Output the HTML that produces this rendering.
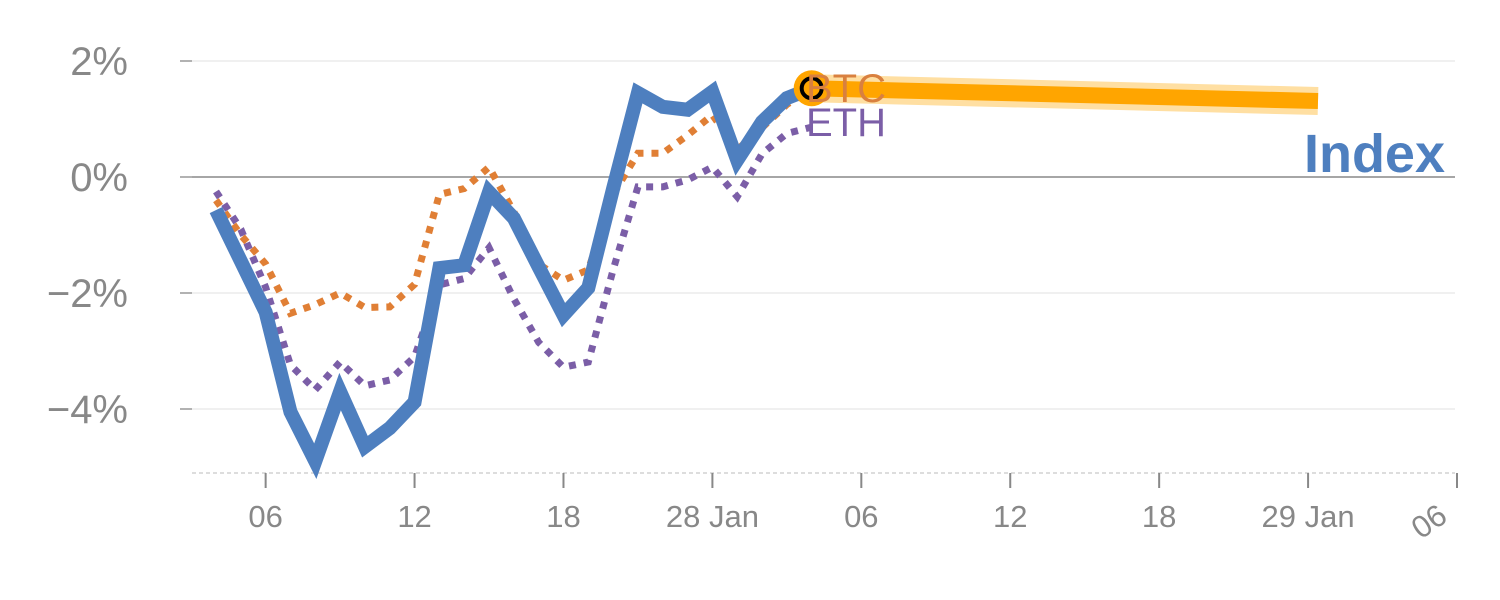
<!DOCTYPE html>
<html><head><meta charset="utf-8"><style>
html,body{margin:0;padding:0;background:#fff;}
svg{display:block;font-family:"Liberation Sans",sans-serif;}
</style></head><body>
<svg id="chart" width="1500" height="600"></svg>
<script>
const indexVals=[-0.57,-1.45,-2.33,-4.05,-4.9,-3.7,-4.65,-4.33,-3.88,-1.57,-1.52,-0.26,-0.71,-1.55,-2.38,-1.91,-0.2,1.45,1.21,1.16,1.47,0.29,0.95,1.36,1.53];
const btcVals=[-0.4,-1.0,-1.5,-2.35,-2.2,-2.0,-2.25,-2.24,-1.85,-0.3,-0.2,0.17,-0.6,-1.5,-1.78,-1.6,-0.3,0.41,0.41,0.72,1.07,0.47,0.85,1.25,1.53];
const ethVals=[-0.25,-0.9,-1.9,-3.24,-3.67,-3.19,-3.6,-3.5,-3.1,-1.86,-1.75,-1.22,-2.1,-2.85,-3.28,-3.19,-1.6,-0.17,-0.17,-0.05,0.17,-0.34,0.4,0.75,0.86];
const forecastVals=[1.53,1.31];
const yTicks=[2,0,-2,-4];
const yTickLabels=["2%","0%","\u22122%","\u22124%"];
const xTickHours=[6,12,18,24,30,36,42,48,54];
const xTickLabels=["06","12","18","28 Jan","06","12","18","29 Jan","06"];
const startHour=4, forecastEndHour=48.4;

const NS="http://www.w3.org/2000/svg";
const svg=document.getElementById('chart');
const xs=h=>216+(h-startHour)*24.82;
const ys=v=>177-v*58;
function el(t,a,p){const e=document.createElementNS(NS,t);for(const k in a)e.setAttribute(k,a[k]);(p||svg).appendChild(e);return e;}

yTicks.forEach((v,i)=>{
  const g=el('line',{x1:192,x2:1455,y1:ys(v),y2:ys(v),stroke:v===0?'#888':'#e6e6e6','stroke-width':v===0?1.5:1.2});
  
  
  const tk=el('line',{x1:180,x2:192,y1:ys(v),y2:ys(v),stroke:'#999','stroke-width':1.5});
  
  
  const t=el('text',{x:128,y:ys(v)+14,'text-anchor':'end','font-size':40,fill:'#888'});
  t.textContent=yTickLabels[i];
  
  
});
const ax=el('line',{x1:192,x2:1455,y1:473,y2:473,stroke:'#ddd','stroke-width':2,'stroke-dasharray':'4 3'});


xTickHours.forEach((h,i)=>{
  const x=xs(h);
  const tk=el('line',{x1:x,x2:x,y1:473,y2:488,stroke:'#888','stroke-width':2});
  
  
  let t;
  if(i===xTickLabels.length-1){
    t=el('text',{x:0,y:0,'text-anchor':'middle','font-size':31,fill:'#888',transform:`translate(${x-22},${530}) rotate(-35)`});
  } else {
    t=el('text',{x:x,y:527,'text-anchor':'middle','font-size':31,fill:'#888'});
  }
  t.textContent=xTickLabels[i];
  
  
});
function pts(arr){return arr.map((v,i)=>xs(startHour+i)+','+ys(v)).join(' ');}
const fp=xs(startHour+indexVals.length-1)+','+ys(forecastVals[0])+' '+xs(forecastEndHour)+','+ys(forecastVals[1]);
const fh=el('polyline',{points:fp,fill:'none',stroke:'#ffd27a','stroke-width':28,'stroke-opacity':0.7});


const fl=el('polyline',{points:fp,fill:'none',stroke:'#ffa500','stroke-width':16});


const eth=el('polyline',{points:pts(ethVals),fill:'none',stroke:'#7b5ea7','stroke-width':7,'stroke-dasharray':'7 8'});


const btc=el('polyline',{points:pts(btcVals),fill:'none',stroke:'#e07f35','stroke-width':7,'stroke-dasharray':'7 8'});


const idx=el('polyline',{points:pts(indexVals),fill:'none',stroke:'#4e7fbf','stroke-width':14,'stroke-linejoin':'miter'});


const lx=xs(startHour+indexVals.length-1), ly=ys(indexVals[indexVals.length-1]);
const m1=el('circle',{cx:lx,cy:ly,r:18,fill:'#ffa500'});


const m2=el('circle',{cx:lx,cy:ly,r:10,fill:'#ffa500',stroke:'#000','stroke-width':4});


const bl=el('text',{x:806,y:102,'font-size':40,fill:'#d9803f'});bl.textContent='BTC';


const el2=el('text',{x:806,y:136,'font-size':40,fill:'#7b5ea7'});el2.textContent='ETH';


const il=el('text',{x:1445,y:172,'text-anchor':'end','font-size':54,'font-weight':'bold',fill:'#4e7fbf'});il.textContent='Index';


</script>
</body></html>
